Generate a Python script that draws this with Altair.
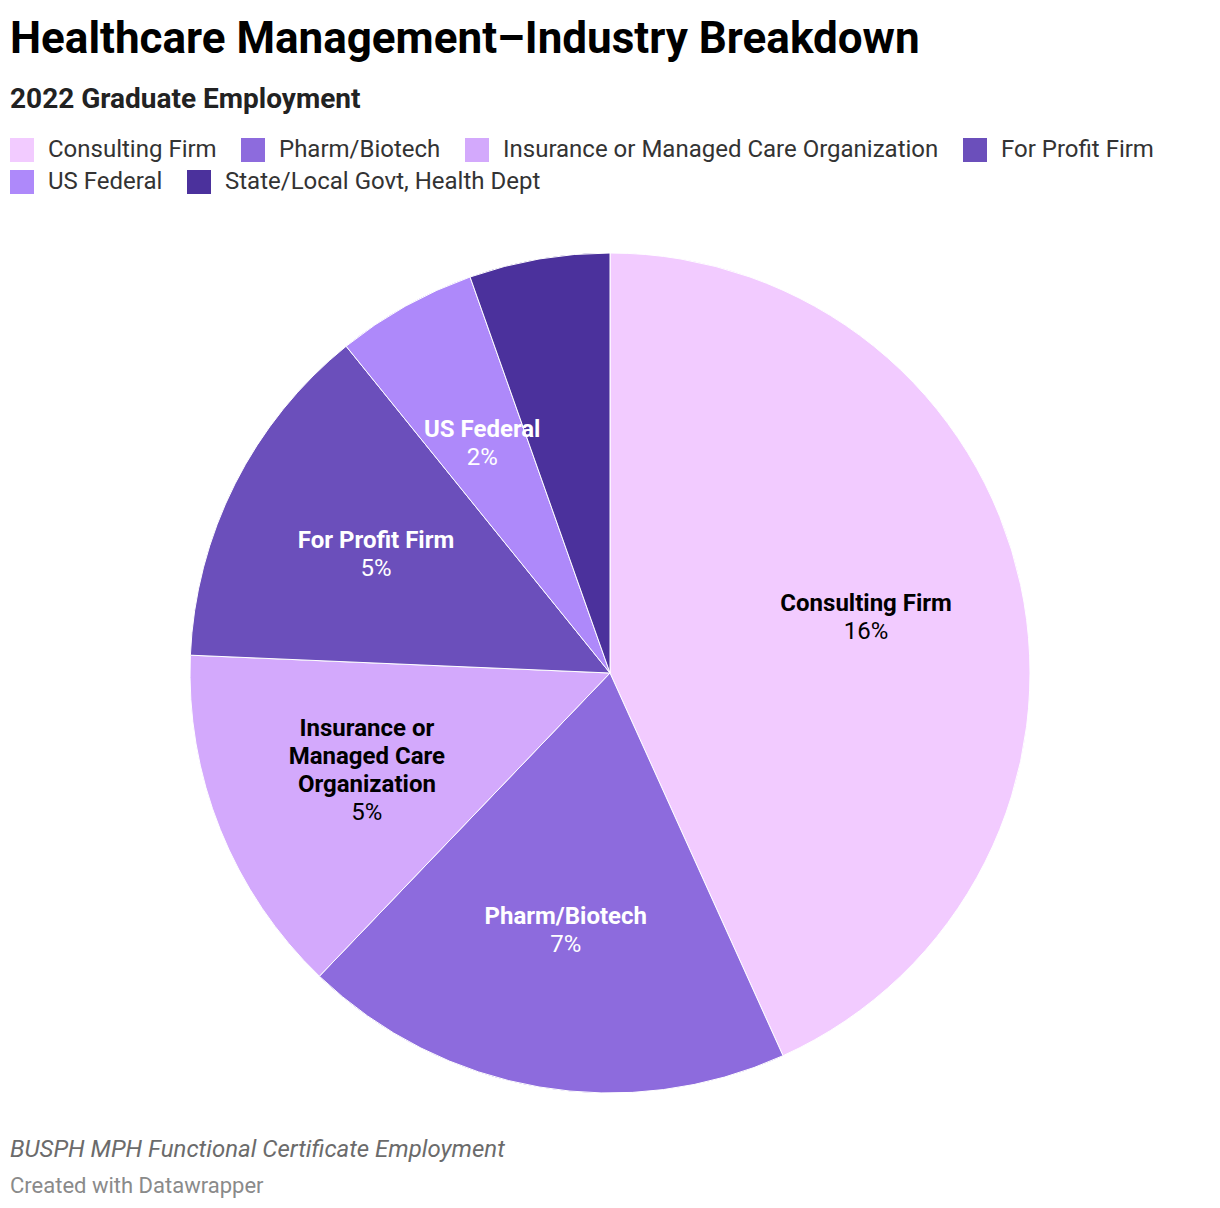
import altair as alt
import pandas as pd

# ---- data ----
categories = ["Consulting Firm", "Pharm/Biotech", "Insurance or Managed Care Organization",
              "For Profit Firm", "US Federal", "State/Local Govt, Health Dept"]
values = [16, 7, 5, 5, 2, 2]
colors = ["#f2cbff", "#8d6bdd", "#d3a9fc", "#6b4fbb", "#ae89fa", "#4b319c"]
label_names = ["Consulting Firm", "Pharm/Biotech", "Insurance or\nManaged Care\nOrganization",
               "For Profit Firm", "US Federal", ""]
label_colors = ["#000000", "#ffffff", "#000000", "#ffffff", "#ffffff", "#ffffff"]
legend_row1 = categories[:4]
legend_row2 = categories[4:]

title = "Healthcare Management\u2013Industry Breakdown"
subtitle = "2022 Graduate Employment"
source_note = "BUSPH MPH Functional Certificate Employment"
credit_note = "Created with Datawrapper"

# ---- build table ----
total = sum(values)
df = pd.DataFrame({
    "cat": categories,
    "cat2": categories,
    "value": values,
    "order": list(range(len(categories))),
    "name": label_names,
    "pct": [f"{v}%" if nm else "" for nm, v in zip(label_names, values)],
    "nlines": [nm.count("\n") + 1 if nm else 0 for nm in label_names],
    "lblcol": label_colors,
})
df["mid"] = df["value"].cumsum() - df["value"] / 2

CX, CY, R, LR = 600, 551, 420, 262
LH = 28
FONT = "Roboto"
theta_scale = alt.Scale(domain=[0, total])

base = alt.Chart(df).encode(
    order=alt.Order("order:Q"),
    x=alt.value(CX),
    y=alt.value(CY),
)

def legend(vals, y):
    return alt.Legend(
        values=vals, orient="none", legendX=0, legendY=y, direction="horizontal",
        title=None, symbolType="square", symbolSize=576, symbolStrokeWidth=0,
        symbolOpacity=1, labelFont=FONT, labelFontSize=24, labelColor="#333333",
        labelOffset=14, columnPadding=24, labelLimit=700,
    )

arcs1 = base.mark_arc(outerRadius=R, stroke="white", strokeWidth=1).encode(
    theta=alt.Theta("value:Q", stack=True, scale=theta_scale),
    fill=alt.Fill("cat:N", scale=alt.Scale(domain=categories, range=colors),
                  legend=legend(legend_row1, 16)),
)
arcs2 = base.mark_arc(outerRadius=R, stroke="white", strokeWidth=1).encode(
    theta=alt.Theta("value:Q", stack=True, scale=theta_scale),
    fill=alt.Fill("cat2:N", scale=alt.Scale(domain=categories, range=colors),
                  legend=legend(legend_row2, 48)),
)

def label_layer(n, field, weight, dy):
    return base.transform_filter(f"datum.nlines == {n}").mark_text(
        radius=LR, font=FONT, fontSize=24, fontWeight=weight, lineBreak="\n",
        lineHeight=LH, align="center", baseline="middle", dy=dy,
    ).encode(
        theta=alt.Theta("mid:Q", stack=False, scale=theta_scale),
        text=f"{field}:N",
        color=alt.Color("lblcol:N", scale=None),
    )

labels = [
    label_layer(1, "name", "bold", -LH / 2),
    label_layer(1, "pct", "normal", LH / 2),
    label_layer(3, "name", "bold", -3 * LH / 2),
    label_layer(3, "pct", "normal", 3 * LH / 2),
]

src = alt.Chart(pd.DataFrame({"t": [source_note]})).mark_text(
    align="left", baseline="middle", font=FONT, fontSize=24, fontStyle="italic", color="#6b6b6b"
).encode(text="t:N", x=alt.value(0), y=alt.value(1028))
cred = alt.Chart(pd.DataFrame({"t": [credit_note]})).mark_text(
    align="left", baseline="middle", font=FONT, fontSize=22, color="#8a8a8a"
).encode(text="t:N", x=alt.value(0), y=alt.value(1064))

chart = alt.layer(arcs1, arcs2, *labels, src, cred).resolve_scale(
    fill="independent"
).resolve_legend(fill="independent").properties(
    width=1200, height=1080,
    padding={"left": 2, "top": 10, "right": 0, "bottom": 0},
    title=alt.TitleParams(
        text=title, subtitle=subtitle, anchor="start", font=FONT, fontSize=44,
        fontWeight="bold", color="#000000", subtitleFont=FONT, subtitleFontSize=28,
        subtitleFontWeight="bold", subtitleColor="#222222", subtitlePadding=24, offset=8,
    ),
).configure(font=FONT, background="white").configure_view(stroke=None)

chart.save("out.html", embed_options={"renderer": "svg", "actions": False})
